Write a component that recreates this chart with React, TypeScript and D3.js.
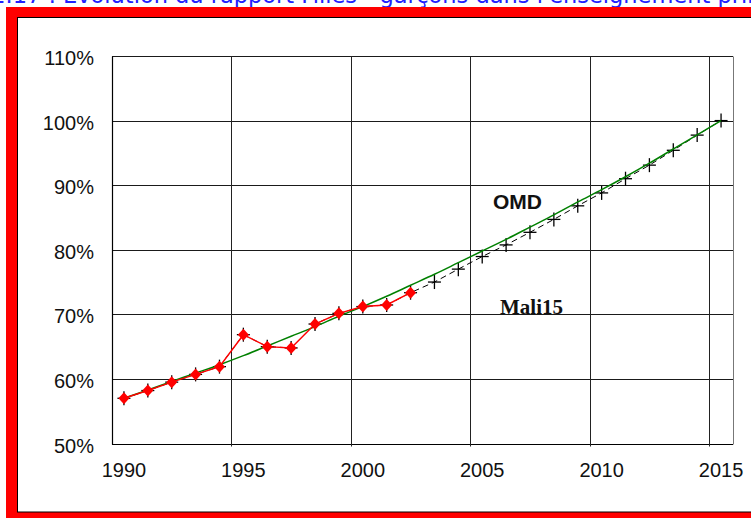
import React from 'react';
import * as d3 from 'd3';

const years = [1990, 1991, 1992, 1993, 1994, 1995, 1996, 1997, 1998, 1999, 2000, 2001, 2002, 2003, 2004, 2005, 2006, 2007, 2008, 2009, 2010, 2011, 2012, 2013, 2014, 2015];
const actualYears = [1990, 1991, 1992, 1993, 1994, 1995, 1996, 1997, 1998, 1999, 2000, 2001, 2002];
const actual = [57.0, 58.2, 59.5, 60.7, 61.9, 66.85, 65.0, 64.8, 68.5, 70.15, 71.2, 71.45, 73.35];
const mali15 = [57.0, 58.2, 59.5, 60.7, 61.9, 66.85, 65.0, 64.8, 68.5, 70.15, 71.2, 71.45, 73.35, 75.0, 77.0, 78.95, 80.75, 82.7, 84.7, 86.8, 88.8, 91.0, 93.1, 95.4, 97.75, 100.0];
const omd = [57.0, 58.3, 59.6, 60.9, 62.2, 63.6, 65.1, 66.6, 68.1, 69.7, 71.2, 72.8, 74.5, 76.2, 78.0, 79.8, 81.6, 83.5, 85.4, 87.4, 89.3, 91.3, 93.4, 95.6, 97.8, 100.0];
const yTicks = [50, 60, 70, 80, 90, 100, 110];
const xLabelYears = [1990, 1995, 2000, 2005, 2010, 2015];
const gridYears = [1995, 2000, 2005, 2010, 2015];
const titleLead = 'Figure 2.17 :';
const titleMain = "Evolution du rapport Filles - garçons dans l'enseignement primaire";

export default function App() {
  const W = 751, H = 518;
  const left = 112, right = 733, top = 56, bottom = 443.5;
  const x = d3.scaleBand<number>().domain(years).range([left, right]).padding(0);
  const cx = (yr: number) => (x(yr) as number) + x.bandwidth() / 2;
  const y = d3.scaleLinear().domain([50, 110]).range([bottom, top]);
  const crisp = (v: number) => Math.round(v) + 0.5;

  const lineStraight = d3.line<[number, number]>().x(d => cx(d[0])).y(d => y(d[1]));
  const lineSmooth = d3.line<[number, number]>().x(d => cx(d[0])).y(d => y(d[1])).curve(d3.curveMonotoneX);

  const maliPts: [number, number][] = years.map((yr, i) => [yr, mali15[i]]);
  const omdPts: [number, number][] = years.map((yr, i) => [yr, omd[i]]);
  const actPts: [number, number][] = actualYears.map((yr, i) => [yr, actual[i]]);

  const sans = 'Arial, "Liberation Sans", sans-serif';

  return (
    <svg width={W} height={H} style={{ position: 'absolute', left: 0, top: 0, display: 'block' }} xmlns="http://www.w3.org/2000/svg">
      <rect x={0} y={0} width={W} height={H} fill="#fff" />
      {/* title (cut at top, as in the reference) */}
      <text x={56} y={3} textAnchor="end" fontFamily='"DejaVu Sans", sans-serif' fontSize={22.5} fill="#2020ff">{titleLead}</text>
      <text x={63} y={3} fontFamily='"DejaVu Sans", sans-serif' fontSize={22.5} fill="#2020ff">{titleMain}</text>
      {/* frame */}
      <rect x={6} y={7} width={800} height={600} fill="#ff0000" />
      <rect x={17.5} y={17.5} width={800} height={494.5} fill="#fff" stroke="#000" strokeWidth={1} />

      {/* horizontal grid */}
      {yTicks.map(t => (
        <line key={'h' + t} x1={left} x2={right} y1={crisp(y(t))} y2={crisp(y(t))} stroke={t === 50 ? '#000' : '#1a1a1a'} strokeWidth={1} />
      ))}
      {/* vertical grid */}
      {gridYears.map(g => (
        <line key={'v' + g} x1={crisp(x(g) as number)} x2={crisp(x(g) as number)} y1={top} y2={bottom + 3} stroke="#222" strokeWidth={1} />
      ))}
      {/* axes / border */}
      <line x1={crisp(left)} x2={crisp(left)} y1={crisp(top)} y2={crisp(bottom)} stroke="#000" strokeWidth={1.2} />
      <line x1={crisp(right)} x2={crisp(right)} y1={crisp(top)} y2={crisp(bottom)} stroke="#777" strokeWidth={1} />

      {/* y labels */}
      {yTicks.map(t => (
        <text key={'yl' + t} x={94} y={y(t) + 9} textAnchor="end" fontFamily={sans} fontSize={20} fill="#111">{t}%</text>
      ))}
      {/* x labels */}
      {xLabelYears.map(yr => (
        <text key={'xl' + yr} x={cx(yr)} y={477} textAnchor="middle" fontFamily={sans} fontSize={20} fill="#111">{yr}</text>
      ))}

      {/* Mali15 dashed projection */}
      <path d={lineStraight(maliPts) || ''} fill="none" stroke="#000" strokeWidth={1} strokeDasharray="6,4" />
      {maliPts.map(([yr, v]) => (
        <g key={'m' + yr} stroke="#000" strokeWidth={1.3}>
          <line x1={cx(yr) - 6.5} x2={cx(yr) + 6.5} y1={y(v)} y2={y(v)} />
          <line x1={cx(yr)} x2={cx(yr)} y1={y(v) - 7} y2={y(v) + 7} />
        </g>
      ))}
      {/* OMD green */}
      <path d={lineSmooth(omdPts) || ''} fill="none" stroke="#008000" strokeWidth={1.5} />
      {/* actual red */}
      <path d={lineStraight(actPts) || ''} fill="none" stroke="#ff0000" strokeWidth={1.5} />
      {actPts.map(([yr, v]) => (
        <path key={'a' + yr} d={`M${cx(yr)},${y(v) - 6}L${cx(yr) + 5.5},${y(v)}L${cx(yr)},${y(v) + 6}L${cx(yr) - 5.5},${y(v)}Z`} fill="#ff0000" />
      ))}

      {/* labels */}
      <text x={493} y={209} fontFamily={sans} fontWeight="bold" fontSize={21} fill="#111">OMD</text>
      <text x={500} y={314} fontFamily='"Times New Roman", "Liberation Serif", serif' fontWeight="bold" fontSize={21} fill="#111">Mali15</text>
    </svg>
  );
}
